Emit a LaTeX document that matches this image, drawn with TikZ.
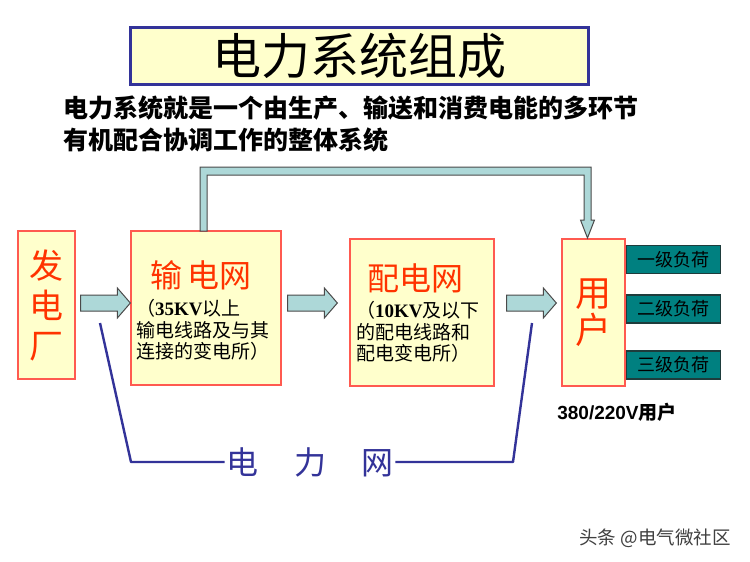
\documentclass[tikz,border=0pt]{standalone}
\usepackage{fontspec}
\setmainfont{Noto Sans CJK SC}
\newfontfamily\timesfont{Liberation Serif}
\newfontfamily\arialfont{Liberation Sans}
\usepackage{tikz}
\usetikzlibrary{positioning, calc}
\definecolor{boxfill}{HTML}{FFFFCC}
\definecolor{boxline}{HTML}{FF5A50}
\definecolor{redword}{HTML}{FF3300}
\definecolor{frameblue}{HTML}{333399}
\definecolor{flowfill}{HTML}{ADD8D8}
\definecolor{flowline}{HTML}{4A4A4A}
\definecolor{loadfill}{HTML}{008080}
\definecolor{loadline}{HTML}{1E3C3C}
\tikzset{
  unit/.style = {draw=boxline, fill=boxfill, line width=1.3pt, inner sep=0pt,
    align=center, text=redword},
  redtitle/.style = {text=redword, inner sep=0pt, font=\fontsize{32}{36}\selectfont},
  note/.style = {align=left, inner sep=0pt, font=\fontsize{19}{21.5}\selectfont},
  flow/.style = {draw=flowline, fill=flowfill, line width=1pt, line join=miter},
  load/.style = {draw=loadline, fill=loadfill, line width=1.2pt, inner sep=0pt,
    minimum width=94pt, minimum height=28pt, anchor=west,
    font=\fontsize{18}{20}\selectfont},
  netline/.style = {draw=frameblue, line width=2.4pt, line join=round}
}
\newcommand{\flowarrow}[2]{%
  \draw[flow] let \p1 = #1, \p2 = #2 in
    (\x1,\y2+8pt) -- (\x2-13pt,\y2+8pt) -- (\x2-13pt,\y2+15pt) -- (\p2)
    -- (\x2-13pt,\y2-15pt) -- (\x2-13pt,\y2-8pt) -- (\x1,\y2-8pt) -- cycle;}

\begin{document}
\begin{tikzpicture}[x=1pt, y=-1pt]
\useasboundingbox (0,0) rectangle (750,562);
\fill[white] (0,0) rectangle (750,562);

% title
\node [draw=frameblue, fill=boxfill, line width=3pt, minimum width=458pt,
  minimum height=57pt, inner sep=0pt, font=\fontsize{49}{52}\selectfont]
  (title) at (359,55.5) {电力系统组成};
\node [anchor=west, inner sep=0pt, font=\fontsize{25}{28}\selectfont\bfseries]
  (sub1) at (63,108) {电力系统就是一个由生产、输送和消费电能的多环节};
\node [anchor=west, inner sep=0pt, font=\fontsize{25}{28}\selectfont\bfseries]
  (sub2) at (63,140) {有机配合协调工作的整体系统};

% units
\node [unit, minimum width=57pt, minimum height=148pt,
  font=\fontsize{34}{40}\selectfont] (gen) at (46.5,305) {发\\电\\厂};
\node [unit, minimum width=150pt, minimum height=154pt] (tx) at (206,308) {};
\node [unit, minimum width=144pt, minimum height=147pt] (dn) at (422,312.5) {};
\node [unit, minimum width=63pt, minimum height=147pt,
  font=\fontsize{36}{37}\selectfont] (user) at (593.5,312.5) {用\\户};

\node [redtitle] (txname) at (201,275) {输\,电网};
\node [note, anchor=west] (txnote) at (136,330)
  {（{\timesfont\bfseries 35KV}以上\\输电线路及与其\\连接的变电所）};
\node [redtitle] (dnname) at (415,278) {配电网};
\node [note, anchor=west] (dnnote) at (356,332)
  {（{\timesfont\bfseries 10KV}及以下\\的配电线路和\\配电变电所）};

% loads
\node [load] (load1) at (user.east |- 0,259.5) {一级负荷};
\node [load] (load2) at (user.east |- 0,309) {二级负荷};
\node [load] (load3) at (user.east |- 0,365) {三级负荷};
\node [inner sep=0pt, font=\fontsize{19}{21}\selectfont\bfseries]
  (lv) at (617,412) {{\arialfont\bfseries 380/220V}用户};

% flows
\coordinate (flowy) at (0,303);
\flowarrow{($(gen.east |- flowy)+(5,0)$)}{(tx.west |- flowy)}
\flowarrow{($(tx.east |- flowy)+(6,0)$)}{($(dn.west |- flowy)+(-12,0)$)}
\flowarrow{($(dn.east |- flowy)+(12,0)$)}{($(user.west |- flowy)+(-5,0)$)}
\draw[flow] (200,231) -- (200,167) -- (591,167) -- (591,220) -- (594.5,220)
  -- (587.5,238) -- (580.5,220) -- (584,220) -- (584,175) -- (207,175)
  -- (207,231) -- cycle;

% power network bracket
\node [inner sep=2pt, text=frameblue, font=\fontsize{32}{34}\selectfont]
  (net) at (310,462) {电\hspace{1.1em}力\hspace{1.1em}网};
\coordinate (netlt) at (100,323);
\coordinate (netlb) at (131,462);
\coordinate (netrb) at (513,462);
\coordinate (netrt) at (532,323);
\draw[netline] (netlt) -- (netlb) -- (net.west);
\draw[netline] (net.east) -- (netrb) -- (netrt);

\node [text=black!75, font=\fontsize{18.5}{20}\selectfont] (mark) at (655,538)
  {头条 @电气微社区};
\end{tikzpicture}
\end{document}
